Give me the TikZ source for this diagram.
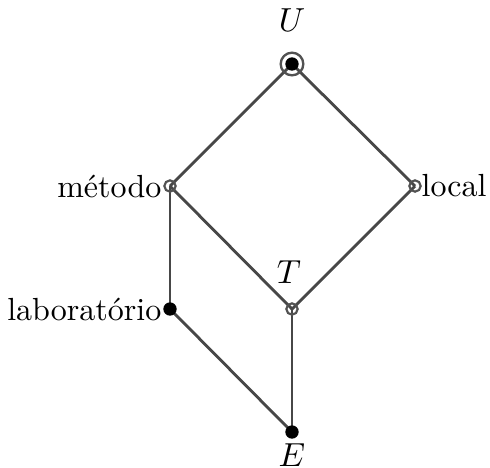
\documentclass[tikz,border=0pt]{standalone}
\begin{document}
\begin{tikzpicture}[x=0.3pt,y=-0.3pt,
  edge/.style={line width=0.85pt,draw=black!72},
  opendot/.style={circle,draw=black!68,line width=0.65pt,inner sep=0pt,minimum size=3.4pt},
  fulldot/.style={circle,fill=black,inner sep=0pt,minimum size=4pt},
  ring/.style={circle,draw=black!68,line width=0.7pt,inner sep=0pt,minimum size=6.8pt},
  lbl/.style={font=\fontsize{9.6}{11}\selectfont,inner sep=0pt}]
\useasboundingbox (0,0) rectangle (490,467);
\coordinate (U) at (292,64);
\coordinate (M) at (170,186);
\coordinate (L) at (415,186);
\coordinate (T) at (292,309);
\coordinate (B) at (170,309);
\coordinate (E) at (292,432);
\draw[edge] (U) -- (M);
\draw[edge] (U) -- (L);
\draw[edge] (M) -- (T);
\draw[edge] (L) -- (T);
\draw[edge] (M) -- (B);
\draw[edge] (B) -- (E);
\draw[edge] (T) -- (E);
\node[opendot] (mo) at (M) {};
\node[opendot] (lo) at (L) {};
\node[opendot] (to) at (T) {};
\node[fulldot] (bo) at (B) {};
\node[fulldot] (eo) at (E) {};
\node[fulldot] (uo) at (U) {};
\node[ring] (ur) at (U) {};
\node[lbl,anchor=east] (ml) at (162,186) {método};
\node[lbl,anchor=west] (ll) at (421,186) {local};
\node[lbl,anchor=east] (bl) at (162,309) {laboratório};
\node[lbl] (ul) at (292,20) {$U$};
\node[lbl] (tl) at (289,272) {$T$};
\node[lbl] (el) at (292,455) {$E$};
\end{tikzpicture}
\end{document}
